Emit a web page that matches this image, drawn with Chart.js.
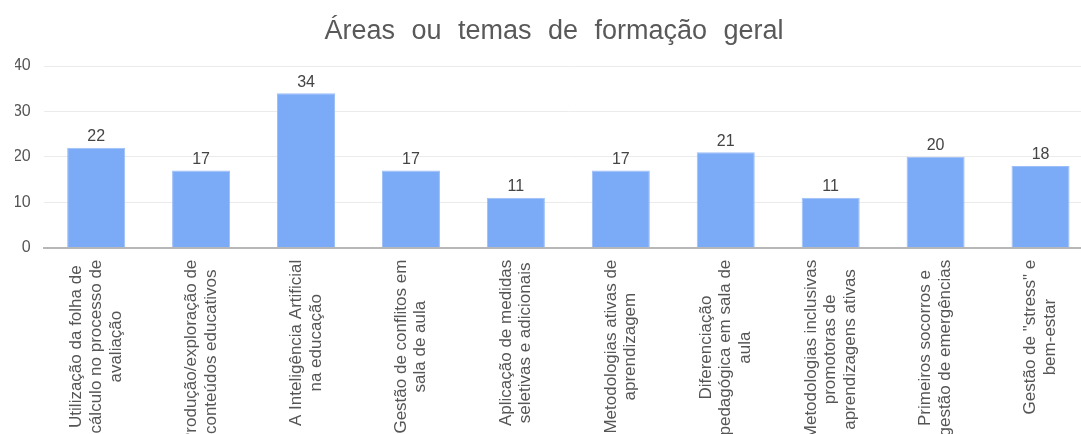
<!DOCTYPE html>
<html>
<head>
<meta charset="utf-8">
<script src="https://cdn.jsdelivr.net/npm/chart.js@4.4.1/dist/chart.umd.min.js"></script>
<style>
html, body { margin: 0; padding: 0; background: #fff; overflow: hidden; }
#wrap { position: relative; width: 1108px; height: 434px; }
</style>
</head>
<body>
<div id="wrap"><canvas id="chart"></canvas></div>
<script>
const chartTitle = "Áreas ou temas de formação geral";
const categories = [
	["Utilização da folha de", "cálculo no processo de", "avaliação"],
	["Produção/exploração de", "conteúdos educativos"],
	["A Inteligência Artificial", "na educação"],
	["Gestão de conflitos em", "sala de aula"],
	["Aplicação de medidas", "seletivas e adicionais"],
	["Metodologias ativas de", "aprendizagem"],
	["Diferenciação", "pedagógica em sala de", "aula"],
	["Metodologias inclusivas", "promotoras de", "aprendizagens ativas"],
	["Primeiros socorros e", "gestão de emergências"],
	["Gestão de \"stress\" e", "bem-estar"]
];
const counts = [22, 17, 34, 17, 11, 17, 21, 11, 20, 18];
const yTicks = [0, 10, 20, 30, 40];

const FONT = "'Liberation Sans', Arial, sans-serif";

// wide word gaps in the title only
const titleSpacing = {
	id: "titleSpacing",
	beforeDraw (chart) { chart.ctx.wordSpacing = "9px"; },
	beforeDatasetsDraw (chart) { chart.ctx.wordSpacing = "0px"; }
};

const barValues = {
	id: "barValues",
	afterDatasetsDraw (chart) {
		const ctx = chart.ctx;
		const meta = chart.getDatasetMeta(0);
		ctx.save();
		ctx.font = `16px ${FONT}`;
		ctx.fillStyle = "#444";
		ctx.textAlign = "center";
		ctx.textBaseline = "alphabetic";
		meta.data.forEach((bar, i) => {
			ctx.fillText(String(counts[i]), bar.x, bar.y - 6.5);
		});
		ctx.restore();
	}
};

// rotated category labels, lines centred on each other, block hung under the axis
const rotatedLabels = {
	id: "rotatedLabels",
	afterDraw (chart) {
		const ctx = chart.ctx;
		const xScale = chart.scales.x;
		const top = xScale.top + 12;
		const lineHeight = 19.7;
		ctx.save();
		ctx.font = `17px ${FONT}`;
		ctx.fillStyle = "#555";
		ctx.textAlign = "center";
		ctx.textBaseline = "middle";
		categories.forEach((lines, i) => {
			const x = xScale.getPixelForTick(i);
			const w = Math.max(...lines.map((l) => ctx.measureText(l).width));
			lines.forEach((line, j) => {
				ctx.save();
				ctx.translate(x + (j - (lines.length - 1) / 2) * lineHeight, top + w / 2);
				ctx.rotate(-Math.PI / 2);
				ctx.fillText(line, 0, 0);
				ctx.restore();
			});
		});
		ctx.restore();
	}
};

new Chart(document.getElementById("chart"), {
	type: "bar",
	data: {
		labels: categories,
		datasets: [{
			data: counts,
			backgroundColor: "#7baaf7",
			borderColor: "#9cbef8",
			borderWidth: 1,
			categoryPercentage: 1,
			barPercentage: 0.553
		}]
	},
	options: {
		responsive: true,
		maintainAspectRatio: false,
		animation: false,
		layout: { padding: { left: 15, right: 15, top: 0, bottom: 0 } },
		plugins: {
			legend: { display: false },
			tooltip: { enabled: false },
			title: {
				display: true,
				text: chartTitle,
				color: "#595959",
				font: { family: FONT, size: 27, weight: "normal" },
				padding: { top: 15, bottom: 18.6 }
			}
		},
		scales: {
			x: {
				grid: { display: false },
				border: { display: true, color: "#b7b7b7", width: 2 },
				ticks: { display: false },
				afterFit (scale) { scale.height = 186.3; }
			},
			y: {
				min: 0,
				max: 40,
				afterBuildTicks (scale) { scale.ticks = yTicks.map((v) => ({ value: v })); },
				grid: {
					color: (c) => (c.tick && c.tick.value === 0 ? "rgba(0,0,0,0)" : "#ebebeb"),
					drawTicks: false
				},
				border: { display: false },
				ticks: { padding: 13, color: "#555", font: { family: FONT, size: 16 } },
				afterFit (scale) { scale.width = 28.7; }
			}
		}
	},
	plugins: [titleSpacing, barValues, rotatedLabels]
});
</script>
</body>
</html>
